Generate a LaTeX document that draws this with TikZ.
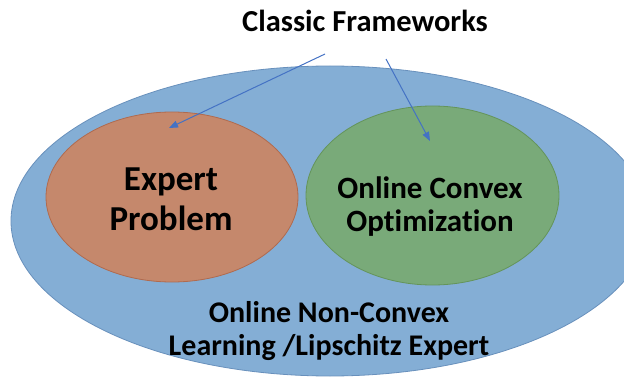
\documentclass[tikz,border=0pt]{standalone}
\usepackage{fontspec}
\setmainfont{Carlito}[Ligatures=NoCommon]
\usetikzlibrary{shapes.geometric,arrows.meta}
\definecolor{bluefill}{RGB}{132,174,213}
\definecolor{blueline}{RGB}{104,144,188}
\definecolor{redfill}{RGB}{197,136,108}
\definecolor{redline}{RGB}{176,106,78}
\definecolor{greenfill}{RGB}{121,170,121}
\definecolor{greenline}{RGB}{100,148,90}
\definecolor{arrowblue}{RGB}{68,114,196}
\tikzset{
  blob/.style={ellipse, inner sep=0pt, line width=0.8pt},
  lbl/.style={anchor=base, inner sep=0pt, text=black},
  pointer/.style={draw=arrowblue, line width=1pt, -{Triangle[length=9pt,width=7pt]}}
}
\begin{document}
\begin{tikzpicture}[x=1pt,y=-1pt]
\useasboundingbox (0,0) rectangle (624,377);
\begin{scope}
\clip (0,0) rectangle (624,377);
\node[blob, draw=blueline, fill=bluefill, minimum width=638pt, minimum height=310pt] (big) at (330,221) {};
\end{scope}
\node[blob, draw=redline, fill=redfill, minimum width=252pt, minimum height=170pt] (expert) at (172,197) {};
\node[blob, draw=greenline, fill=greenfill, minimum width=253pt, minimum height=179pt] (oco) at (432.5,195.5) {};

\node[lbl, font=\bfseries\fontsize{30.5}{34}\selectfont] (title) at (365,32) {Classic Frameworks};

\coordinate (s1) at (325,54);
\coordinate (t1) at (169,128);
\coordinate (s2) at (386,59);
\coordinate (t2) at (430,141);
\draw[pointer] (s1) -- (t1);
\draw[pointer] (s2) -- (t2);

\node[lbl, font=\bfseries\fontsize{35}{40}\selectfont] (e1) at (171,190) {Expert};
\node[lbl, font=\bfseries\fontsize{35}{40}\selectfont] (e2) at (171,230) {Problem};

\node[lbl, font=\bfseries\fontsize{31}{34}\selectfont] (o1) at (430,198) {Online Convex};
\node[lbl, font=\bfseries\fontsize{31}{34}\selectfont] (o2) at (430,231) {Optimization};

\node[lbl, font=\bfseries\fontsize{30}{33}\selectfont] (n1) at (329,322) {Online Non-Convex};
\node[lbl, font=\bfseries\fontsize{30}{33}\selectfont] (n2) at (329,355) {Learning /Lipschitz Expert};
\end{tikzpicture}
\end{document}
